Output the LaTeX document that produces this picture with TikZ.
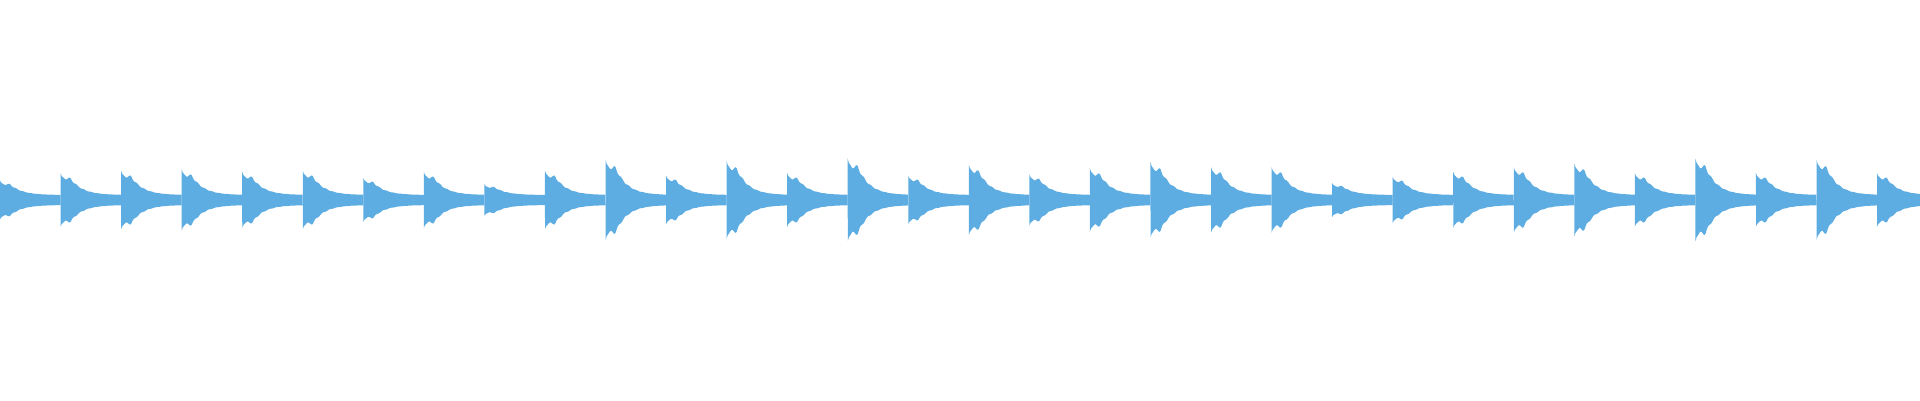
\documentclass[tikz,border=0pt]{standalone}
\definecolor{wavec}{RGB}{93,173,226}
\tikzset{wave/.style={fill=wavec,draw=none}}
\begin{document}
\begin{tikzpicture}
            \useasboundingbox (0,-2) rectangle (19.2,2);
            % one decaying burst per beat
            \foreach \a [count=\i from 0] in {16,22,24,25,23,24,18,23,13,24,33,20,32,22,34,20,29,21,26,31,27,27,14,19,23,27,30,22,34,22,33,22}
            {
                \pgfmathsetmacro{\xo}{\i*0.6055}
                \pgfmathsetmacro{\amp}{\a*0.0122}
                \fill[wave] plot[domain=0:0.6055,samples=60]
                    ({\xo+\x},{0.05+(0.8*\amp-0.05)*exp(-max(\x-0.1,0)/0.12)*(1+0.06*sin(\x*5000))+0.2*\amp*exp(-\x/0.01)})
                    -- plot[domain=0.6055:0,samples=60]
                    ({\xo+\x},{-0.05-(0.8*\amp-0.05)*exp(-max(\x-0.1,0)/0.12)*(1+0.06*sin(\x*5000))-0.2*\amp*exp(-\x/0.01)})
                    -- cycle;
            }
        \end{tikzpicture}
\end{document}
